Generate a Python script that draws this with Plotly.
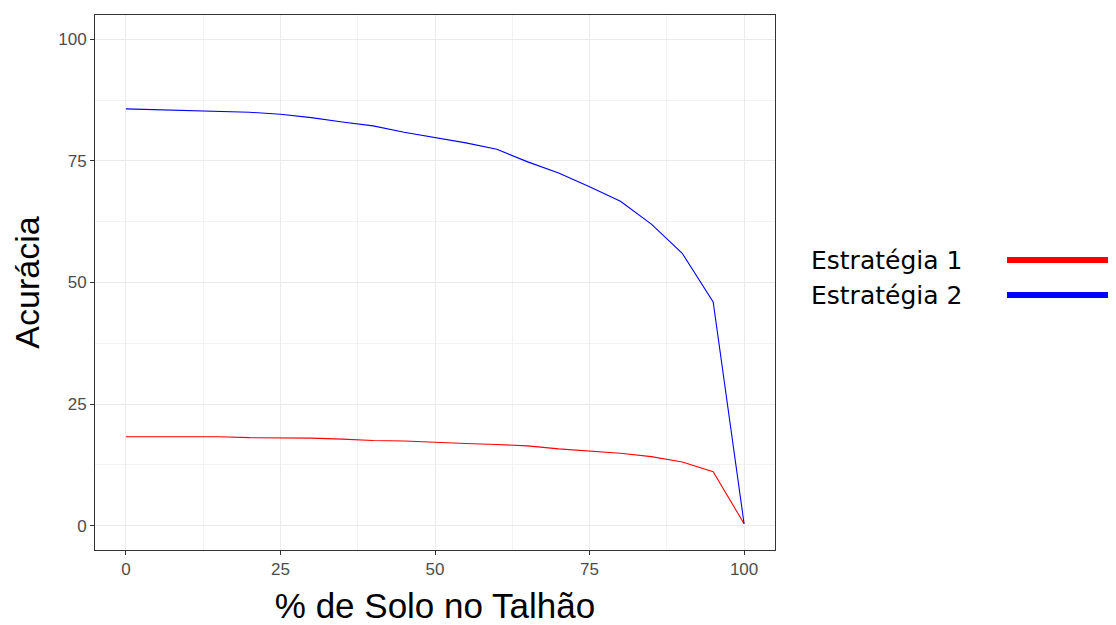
import plotly.graph_objects as go

# Data
solo_pct = [0, 5, 10, 15, 20, 25, 30, 35, 40, 45, 50, 55, 60, 65, 70, 75, 80, 85, 90, 95, 100]
estrategia_1 = [18.3, 18.3, 18.3, 18.3, 18.1, 18.1, 18.0, 17.8, 17.5, 17.4, 17.1, 16.9, 16.7, 16.4,
                15.8, 15.4, 14.9, 14.2, 13.1, 11.1, 0.4]
estrategia_2 = [85.7, 85.5, 85.4, 85.2, 85.0, 84.6, 83.9, 83.0, 82.2, 80.9, 79.8, 78.7, 77.4, 74.8,
                72.5, 69.7, 66.7, 62.0, 56.0, 46.0, 0.4]
series_names = ["Estratégia 1", "Estratégia 2"]
series_colors = ["#ff0000", "#0000ff"]
tick_vals = [0, 25, 50, 75, 100]
x_title = "% de Solo no Talhão"
y_title = "Acurácia"

# page has an 8px body margin: figure pixel = screen pixel - 8
OFF = 8
W, H = 1116 - OFF, 625 - OFF
L, T = 95 - OFF, 15 - OFF
R = W - (775 - OFF)
B = H - (550 - OFF)
pw, ph = W - L - R, H - T - B

fig = go.Figure()
for name, ys, col in zip(series_names, [estrategia_1, estrategia_2], series_colors):
    fig.add_trace(go.Scatter(x=solo_pct, y=ys, mode="lines", name=name,
                             line=dict(color=col, width=1.1), showlegend=False))

axis_common = dict(
    showline=True, mirror=True, linecolor="#333333", linewidth=1,
    showgrid=True, gridcolor="#ebebeb", gridwidth=1,
    zeroline=False,
    ticks="outside", ticklen=4, tickcolor="#333333", tickwidth=1,
    tickfont=dict(family="Liberation Sans, Arial, sans-serif", size=17, color="#4d4d4d"),
    tickvals=tick_vals,
    minor=dict(tickvals=[12.5, 37.5, 62.5, 87.5], showgrid=True, gridcolor="#f2f2f2",
               gridwidth=1, ticks=""),
    automargin=False,
)

fig.update_xaxes(range=[-5, 105], title=dict(text=x_title, standoff=17,
                 font=dict(family="Liberation Sans, Arial, sans-serif", size=35, color="#000000")),
                 **axis_common)
fig.update_yaxes(range=[-5, 105], title=dict(text=y_title, standoff=14,
                 font=dict(family="Liberation Sans, Arial, sans-serif", size=34, color="#000000")),
                 **axis_common)

# Legend drawn as text + key lines to the right (label first, then key)
legend_y_px = [260, 295]
for name, col, ypx in zip(series_names, series_colors, legend_y_px):
    yp = (H - B - (ypx - OFF)) / ph
    fig.add_annotation(x=(812 - OFF - L) / pw, y=yp, xref="paper", yref="paper",
                       text=name, showarrow=False, xanchor="left", yanchor="middle",
                       xshift=-3,
                       font=dict(family="DejaVu Sans, Verdana, sans-serif", size=25, color="#000000"))
    fig.add_shape(type="line", xref="paper", yref="paper",
                  x0=(1007 - OFF - L) / pw, x1=(1130 - OFF - L) / pw, y0=yp, y1=yp,
                  line=dict(color=col, width=6))

fig.update_layout(
    width=W, height=H,
    margin=dict(l=L, r=R, t=T, b=B, autoexpand=False),
    paper_bgcolor="white", plot_bgcolor="white",
    showlegend=False,
)

fig.write_html("out.html")
